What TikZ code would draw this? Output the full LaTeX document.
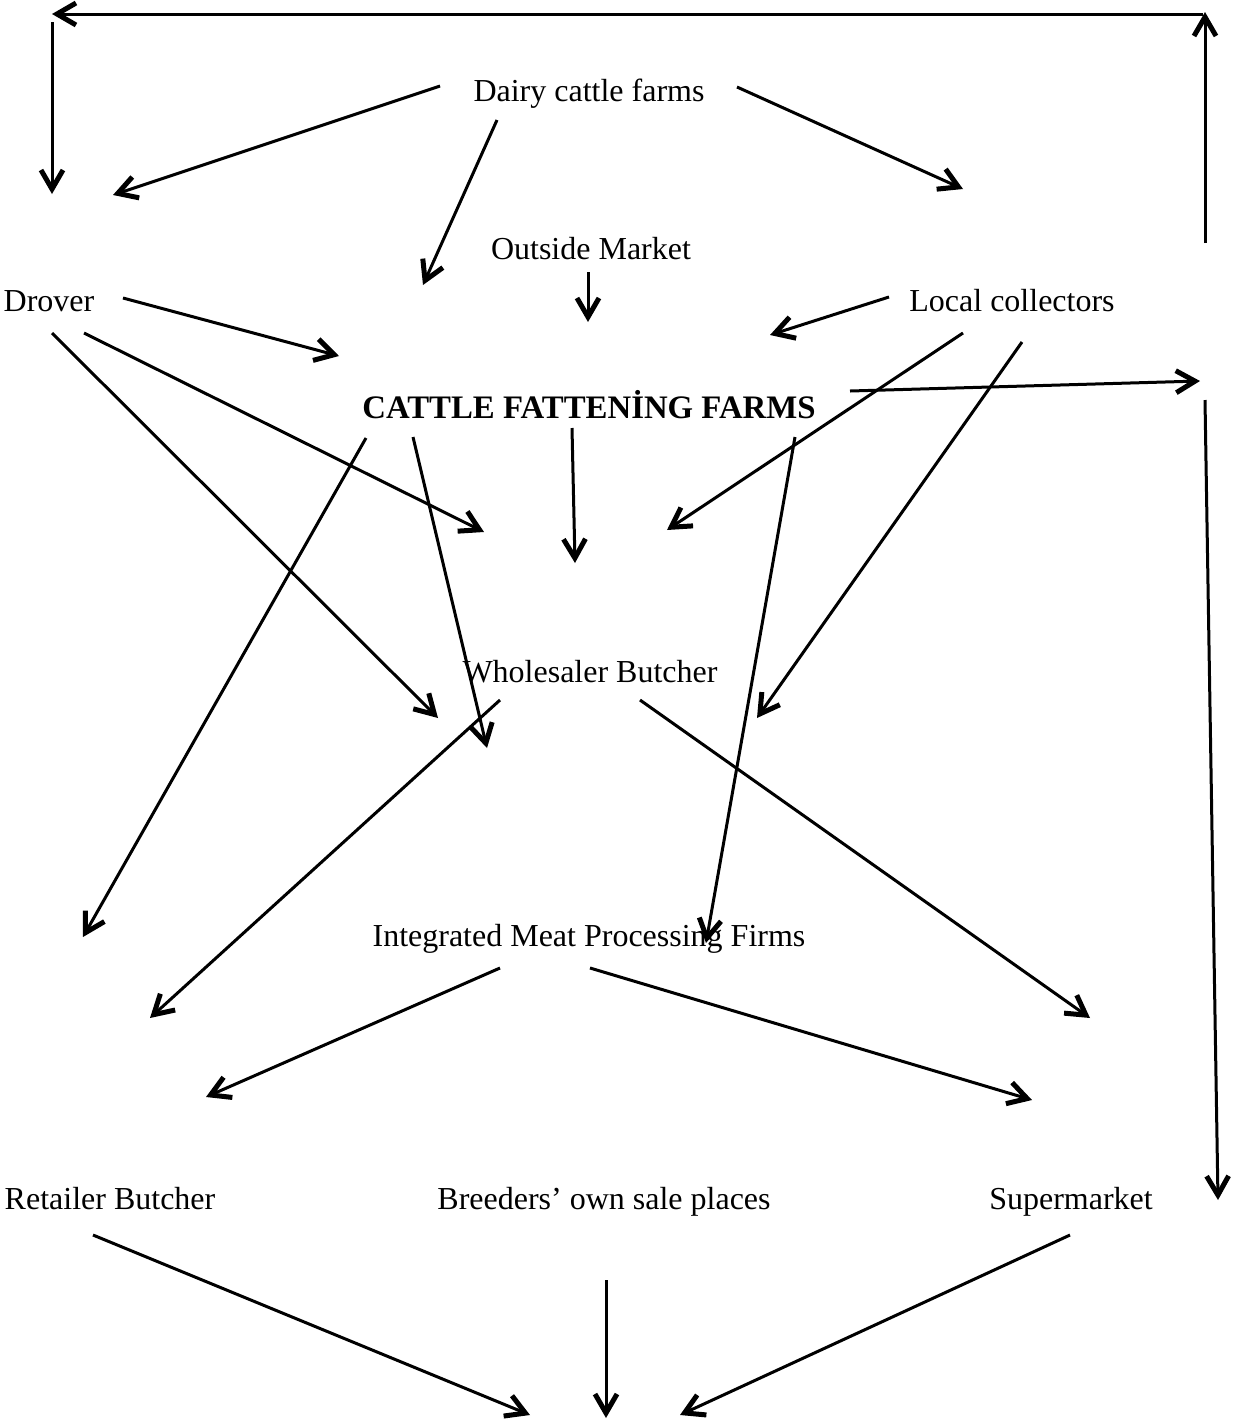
\documentclass[tikz,border=0pt]{standalone}
\usepackage{fontspec}
\setmainfont{Liberation Serif}
\usetikzlibrary{arrows.meta}
\begin{document}
\begin{tikzpicture}[x=1pt,y=-1pt,
  lbl/.style={inner sep=0pt, anchor=base, font=\fontsize{32pt}{38pt}\selectfont},
  boldlbl/.style={lbl, font=\fontsize{32.8pt}{38pt}\selectfont\bfseries},
  conn/.style={line width=3pt, -{Straight Barb[length=19pt,width=22pt,line width=5pt]}}]
\useasboundingbox (0,0) rectangle (1234,1425);

% labels
\node[lbl] (dairy) at (589,101) {Dairy cattle farms};
\node[lbl] (outside) at (591,259) {Outside Market};
\node[lbl] (drover) at (49,311) {Drover};
\node[lbl] (local) at (1012,311) {Local collectors};
\node[boldlbl] (fatten) at (589,418) {CATTLE FATTENİNG FARMS};
\node[lbl] (whole) at (590,682) {Wholesaler Butcher};
\node[lbl] (integ) at (589,946) {Integrated Meat Processing Firms};
\node[lbl] (retail) at (110,1209) {Retailer Butcher};
\node[lbl] (breed) at (604,1209) {Breeders’ own sale places};
\node[lbl] (super) at (1071,1209) {Supermarket};

% coordinates
\coordinate (r1) at (1205,243);  \coordinate (r1e) at (1205,12);
\coordinate (t1) at (1203,14);   \coordinate (t1e) at (52,14);
\coordinate (l1) at (52,22);     \coordinate (l1e) at (52,194);
\coordinate (d1) at (440,86);    \coordinate (d1e) at (113,195);
\coordinate (d2) at (497,120);   \coordinate (d2e) at (423,285);
\coordinate (d3) at (737,87);    \coordinate (d3e) at (963,189);
\coordinate (o1) at (588,272);   \coordinate (o1e) at (588,322);
\coordinate (v1) at (123,298);   \coordinate (v1e) at (339,356);
\coordinate (c1) at (889,297);   \coordinate (c1e) at (770,335);
\coordinate (v2) at (84,333);    \coordinate (v2e) at (484,532);
\coordinate (v3) at (52,333);    \coordinate (v3e) at (438,718);
\coordinate (c2) at (963,333);   \coordinate (c2e) at (667,530);
\coordinate (c3) at (1022,342);  \coordinate (c3e) at (757,718);
\coordinate (f1) at (850,391);   \coordinate (f1e) at (1200,381);
\coordinate (rv) at (1205,400);  \coordinate (rve) at (1218,1200);
\coordinate (f2) at (572,428);   \coordinate (f2e) at (575,563);
\coordinate (f3) at (366,438);   \coordinate (f3e) at (83,937);
\coordinate (f4) at (413,437);   \coordinate (f4e) at (487,748);
\coordinate (f5) at (795,437);   \coordinate (f5e) at (706,943);
\coordinate (w1) at (500,700);   \coordinate (w1e) at (150,1018);
\coordinate (w2) at (640,700);   \coordinate (w2e) at (1090,1018);
\coordinate (i1) at (500,968);   \coordinate (i1e) at (206,1097);
\coordinate (i2) at (590,968);   \coordinate (i2e) at (1032,1100);
\coordinate (b1) at (93,1235);   \coordinate (b1e) at (530,1415);
\coordinate (b2) at (606,1280);  \coordinate (b2e) at (606,1418);
\coordinate (b3) at (1070,1235); \coordinate (b3e) at (680,1415);

% connectors
\draw[conn] (r1) -- (r1e);
\draw[conn] (t1) -- (t1e);
\draw[conn] (l1) -- (l1e);
\draw[conn] (d1) -- (d1e);
\draw[conn] (d2) -- (d2e);
\draw[conn] (d3) -- (d3e);
\draw[conn] (o1) -- (o1e);
\draw[conn] (v1) -- (v1e);
\draw[conn] (c1) -- (c1e);
\draw[conn] (v2) -- (v2e);
\draw[conn] (v3) -- (v3e);
\draw[conn] (c2) -- (c2e);
\draw[conn] (c3) -- (c3e);
\draw[conn] (f1) -- (f1e);
\draw[conn] (rv) -- (rve);
\draw[conn] (f2) -- (f2e);
\draw[conn] (f3) -- (f3e);
\draw[conn] (f4) -- (f4e);
\draw[conn] (f5) -- (f5e);
\draw[conn] (w1) -- (w1e);
\draw[conn] (w2) -- (w2e);
\draw[conn] (i1) -- (i1e);
\draw[conn] (i2) -- (i2e);
\draw[conn] (b1) -- (b1e);
\draw[conn] (b2) -- (b2e);
\draw[conn] (b3) -- (b3e);
\end{tikzpicture}
\end{document}
